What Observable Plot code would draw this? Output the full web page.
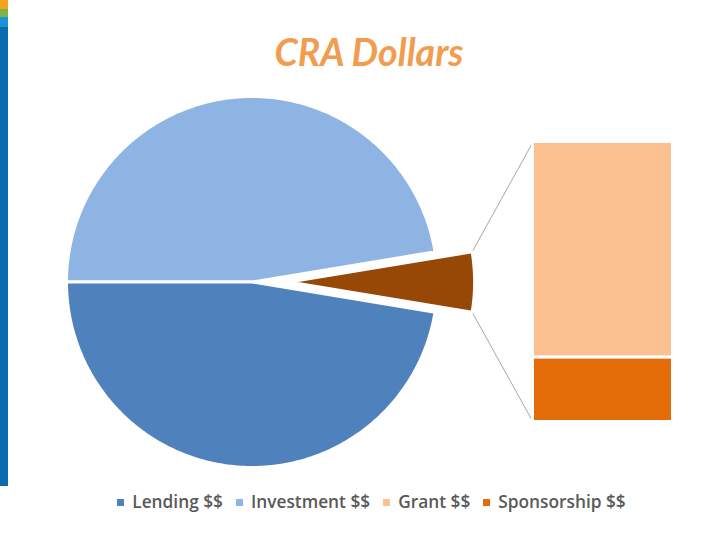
<!DOCTYPE html>
<html>
<head>
<meta charset="utf-8">
<script src="https://cdn.jsdelivr.net/npm/d3@7"></script>
<script src="https://cdn.jsdelivr.net/npm/@observablehq/plot@0.6"></script>
<style>
  html, body { margin: 0; padding: 0; background: #fff; }
  #wrap { position: relative; width: 720px; height: 540px; overflow: hidden; }
  .stripe { position: absolute; left: 0; width: 8px; }
  #title { position: absolute; left: 0; top: 30px; width: 720px; padding-left: 18px; box-sizing: border-box;
    text-align: center; font-family: Lato, "Open Sans", sans-serif; font-weight: 700; font-style: italic;
    font-size: 37.5px; color: #F19C4F; line-height: 44px; }
  #chart { position: absolute; left: 0; top: 85px; }
  #legend { position: absolute; left: 0; top: 491px; width: 720px; padding-left: 23px; box-sizing: border-box;
    display: flex; justify-content: center; align-items: center; gap: 13px;
    font-family: "Open Sans", sans-serif; font-weight: 600; font-size: 17.3px; color: #595959; line-height: 22px; }
  .item { display: flex; align-items: center; white-space: nowrap; }
  .sw { width: 7px; height: 7px; margin-right: 8px; }
</style>
</head>
<body>
<div id="wrap">
  <div class="stripe" style="top:0;height:9px;background:#F6A31E"></div>
  <div class="stripe" style="top:9px;height:8px;background:#7DB446"></div>
  <div class="stripe" style="top:17px;height:10px;background:#1C93D2"></div>
  <div class="stripe" style="top:27px;height:459px;background:#0A6CAE"></div>
  <div id="title"></div>
  <div id="chart"></div>
  <div id="legend"></div>
</div>
<script>
// ---- data ----
const titleText = "CRA Dollars";
const pieCategories = ["Investment $$", "Lending $$", "Other"];
const pieValues = [47.4, 47.4, 5.2];
const barCategories = ["Sponsorship $$", "Grant $$"];   // bottom to top
const barValues = [1.2, 4.0];
const legendLabels = ["Lending $$", "Investment $$", "Grant $$", "Sponsorship $$"];
const colors = ["#4F81BD", "#8EB4E3", "#FAC090", "#E36C09", "#974806"];
const colorDomain = ["Lending $$", "Investment $$", "Grant $$", "Sponsorship $$", "Other"];

// ---- layout (units: pie radius = 1) ----
const W = 720, H = 395;
const pxPerUnit = 185.5;
const cx = 251.5, cy = 196.5;
const explode = 0.2;
const barX = [1.5148, 2.2695];
const barHalf = 0.7547;

// ---- build pie polygons ----
const total = d3.sum(pieValues);
const otherIdx = pieCategories.indexOf("Other");
const otherSpan = pieValues[otherIdx] / total * 2 * Math.PI;
let a = otherSpan / 2;
const piePts = [];
const sliceInfo = {};
pieCategories.forEach((k, i) => {
  const span = pieValues[i] / total * 2 * Math.PI;
  const a0 = a, a1 = a + span;
  a = a1;
  const mid = (a0 + a1) / 2;
  const off = k === "Other" ? explode : 0;
  const ox = off * Math.cos(mid), oy = off * Math.sin(mid);
  sliceInfo[k] = {a0, a1, ox, oy};
  piePts.push({k, x: ox, y: oy});
  const n = Math.max(4, Math.ceil(span / 0.01));
  for (let j = 0; j <= n; j++) {
    const t = a0 + (a1 - a0) * j / n;
    piePts.push({k, x: ox + Math.cos(t), y: oy + Math.sin(t)});
  }
});

// ---- bar of "Other" ----
const barTotal = d3.sum(barValues);
let cum = 0;
const barRects = barCategories.map((k, i) => {
  const y1 = -barHalf + cum / barTotal * 2 * barHalf;
  cum += barValues[i];
  const y2 = -barHalf + cum / barTotal * 2 * barHalf;
  return {k, x1: barX[0], x2: barX[1], y1, y2};
});

// ---- connectors ----
const so = sliceInfo["Other"];
const topCorner = {x: so.ox + Math.cos(so.a1), y: so.oy + Math.sin(so.a1)};
const botCorner = {x: so.ox + Math.cos(so.a0), y: so.oy + Math.sin(so.a0)};
const links = [
  {x1: topCorner.x, y1: topCorner.y, x2: barX[0], y2: barHalf},
  {x1: botCorner.x, y1: botCorner.y, x2: barX[0], y2: -barHalf}
];

const xDomain = [-cx / pxPerUnit, (W - cx) / pxPerUnit];
const yDomain = [-(H - cy) / pxPerUnit, cy / pxPerUnit];

const chart = Plot.plot({
  width: W, height: H,
  margin: 0,
  x: {domain: xDomain, range: [0, W], axis: null},
  y: {domain: yDomain, range: [H, 0], axis: null},
  color: {domain: colorDomain, range: colors},
  marks: [
    Plot.link(links, {x1: "x1", y1: "y1", x2: "x2", y2: "y2", stroke: "#A6A6A6", strokeWidth: 1}),
    Plot.line(piePts, {x: "x", y: "y", z: "k", fill: "k", stroke: "white", strokeWidth: 3, curve: "linear-closed"}),
    Plot.rect(barRects, {x1: "x1", x2: "x2", y1: "y1", y2: "y2", fill: "k", stroke: "white", strokeWidth: 3})
  ]
});
document.getElementById("chart").appendChild(chart);

document.getElementById("title").textContent = titleText;
const colorOf = k => colors[colorDomain.indexOf(k)];
const legend = document.getElementById("legend");
legendLabels.forEach(l => {
  const it = document.createElement("div");
  it.className = "item";
  const sw = document.createElement("div");
  sw.className = "sw";
  sw.style.background = colorOf(l);
  const tx = document.createElement("span");
  tx.textContent = l;
  it.appendChild(sw); it.appendChild(tx);
  legend.appendChild(it);
});
</script>
</body>
</html>
